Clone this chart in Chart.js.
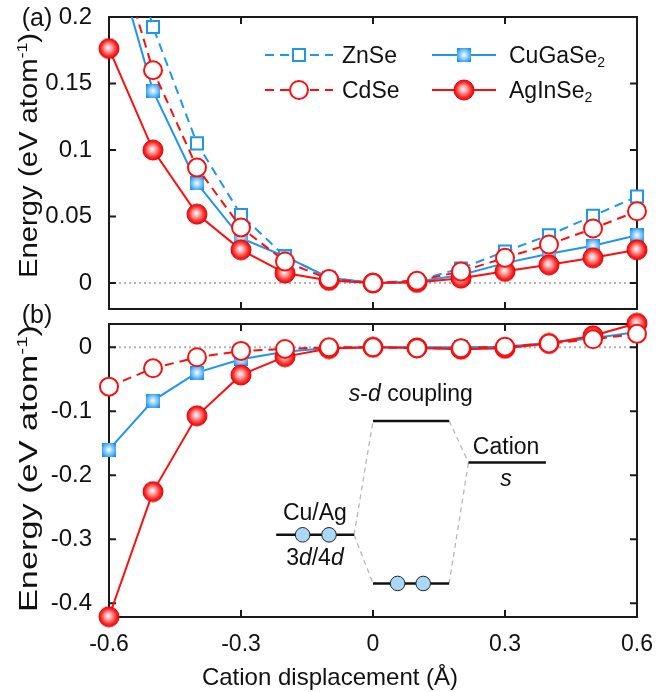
<!DOCTYPE html>
<html><head><meta charset="utf-8">
<script src="https://cdn.jsdelivr.net/npm/chart.js@4.4.0/dist/chart.umd.min.js"></script>
<style>
body{margin:0;background:#fff}
#wrap{position:relative;width:668px;height:692px;background:#fff}
canvas{position:absolute;left:0}
</style></head>
<body><div id="wrap">
<canvas id="ca" width="668" height="320" style="top:0"></canvas>
<canvas id="cb" width="668" height="396" style="top:296px"></canvas>
</div>
<script>
// ---------------- data ----------------
const xValues = [-0.6,-0.5,-0.4,-0.3,-0.2,-0.1,0,0.1,0.2,0.3,0.4,0.5,0.6];
const seriesNames = ['ZnSe','CdSe','CuGaSe₂','AgInSe₂'];
// panel (a)
const znseA = [0.31,0.1925,0.105,0.0512,0.020,0.004,0,0.002,0.011,0.0237,0.036,0.0505,0.065];
const cdseA = [0.27,0.160,0.0868,0.0418,0.0162,0.003,0,0.0017,0.0087,0.019,0.029,0.041,0.054];
const cugaA = [0.26,0.1445,0.075,0.0338,0.020,0.004,0,0.001,0.006,0.015,0.022,0.028,0.036];
const aginA = [0.1763,0.100,0.0518,0.025,0.0075,0.002,0,0.0005,0.0037,0.0088,0.0137,0.019,0.025];
// panel (b)
const cdseB = [-0.0615,-0.0328,-0.0156,-0.0057,-0.0026,0,0,-0.0015,-0.0015,0.001,0.006,0.0125,0.021];
const cugaB = [-0.160,-0.0833,-0.0396,-0.0188,-0.007,-0.001,0,0,0,0.001,0.007,0.014,0.024];
const aginB = [-0.421,-0.2255,-0.107,-0.0432,-0.0146,-0.002,0,-0.001,-0.003,-0.0015,0.006,0.018,0.0375];
// ticks
const xTicks = [-0.6,-0.3,0,0.3,0.6];
const xTickLabels = ['-0.6','-0.3','0','0.3','0.6'];
const yTicksA = [0,0.05,0.1,0.15,0.2];
const yTickLabelsA = ['0','0.05','0.1','0.15','0.2'];
const yTicksB = [-0.4,-0.3,-0.2,-0.1,0];
const yTickLabelsB = ['-0.4','-0.3','-0.2','-0.1','0'];

// ---------------- styles ----------------
const FONT = '"Liberation Sans", Arial, sans-serif';
const BLUE = '#1e96ee', RED = '#ff0d0d';
const DASH = [9,6];

function makeRedBall(){
  const c = document.createElement('canvas'); c.width = 22; c.height = 22;
  const g = c.getContext('2d');
  const gr = g.createRadialGradient(10,10,0,11,11,10.5);
  gr.addColorStop(0,'#ffffff'); gr.addColorStop(0.3,'#ffb0b0');
  gr.addColorStop(0.7,'#ff3030'); gr.addColorStop(1,'#e00000');
  g.fillStyle = gr; g.beginPath(); g.arc(11,11,10,0,Math.PI*2); g.fill();
  g.strokeStyle = '#e40000'; g.lineWidth = 1; g.stroke();
  return c;
}
function makeBlueSquare(){
  const c = document.createElement('canvas'); c.width = 14; c.height = 14;
  const g = c.getContext('2d');
  const gr = g.createRadialGradient(7,7,0,7,7,8.5);
  gr.addColorStop(0,'#ffffff'); gr.addColorStop(0.45,'#8fd0ff'); gr.addColorStop(1,'#1e8fe8');
  g.fillStyle = gr; g.fillRect(0,0,14,14);
  return c;
}
const redBall = makeRedBall(), blueSq = makeBlueSquare();

const pts = arr => xValues.map((x,i)=>({x, y: arr[i]}));

function openDs(label, arr, color, style, r, order, clip){
  return {label, data: pts(arr), borderColor: color, borderWidth: 2, borderDash: DASH,
    pointStyle: style, pointRadius: r, pointBorderWidth: 2, pointBorderColor: color,
    pointBackgroundColor: '#fff', order, clip, tension: 0};
}
function fillDs(label, arr, color, img, order, clip){
  return {label, data: pts(arr), borderColor: color, borderWidth: 2,
    pointStyle: img, pointRadius: 10, pointBorderWidth: 0, pointBackgroundColor: color,
    pointBorderColor: color, order, clip, tension: 0};
}

// ---------------- drawing helpers ----------------
function richWidth(ctx, segs){
  let w = 0;
  segs.forEach(s => { ctx.font = s.font; w += ctx.measureText(s.t).width; });
  return w;
}
function drawRich(ctx, segs, x, y, align){
  const w = richWidth(ctx, segs);
  let cx = align === 'center' ? x - w/2 : (align === 'right' ? x - w : x);
  ctx.textBaseline = 'alphabetic'; ctx.textAlign = 'left';
  segs.forEach(s => { ctx.font = s.font; ctx.fillText(s.t, cx, y + (s.dy||0)); cx += ctx.measureText(s.t).width; });
}
function nameSegs(name, size){
  const parts = name.split('₂');
  const segs = [{t: parts[0], font: `${size}px ${FONT}`}];
  if (parts.length > 1) segs.push({t: '2', font: `${Math.round(size*0.62)}px ${FONT}`, dy: 4});
  return segs;
}
const titleSegs = size => [
  {t:'Energy (eV atom', font:`${size}px ${FONT}`},
  {t:'-1', font:`${Math.round(size*0.6)}px ${FONT}`, dy:-size*0.42},
  {t:')', font:`${size}px ${FONT}`}
];

const panelPlugin = {
  id: 'panel',
  beforeDatasetsDraw(chart, args, o){
    const {ctx, chartArea: a, scales: {x, y}} = chart;
    ctx.save();
    const y0 = y.getPixelForValue(0);
    ctx.strokeStyle = '#b4b4b4'; ctx.lineWidth = 2; ctx.setLineDash([2,3]);
    ctx.beginPath(); ctx.moveTo(a.left, y0); ctx.lineTo(a.right, y0); ctx.stroke();
    ctx.setLineDash([]);
    ctx.strokeStyle = '#1a1a1a'; ctx.lineWidth = 2;
    ctx.strokeRect(a.left, a.top, a.right - a.left, a.bottom - a.top);
    const L = 7;
    ctx.beginPath();
    x.ticks.forEach(t => { const p = x.getPixelForValue(t.value);
      ctx.moveTo(p, a.bottom); ctx.lineTo(p, a.bottom - L);
      ctx.moveTo(p, a.top); ctx.lineTo(p, a.top + L); });
    y.ticks.forEach(t => { const p = y.getPixelForValue(t.value);
      ctx.moveTo(a.left, p); ctx.lineTo(a.left + L, p);
      ctx.moveTo(a.right, p); ctx.lineTo(a.right - L, p); });
    ctx.stroke();
    ctx.restore();
  },
  afterDraw(chart, args, o){
    const {ctx, scales: {x, y}} = chart;
    ctx.save();
    ctx.fillStyle = '#111';
    // panel label
    ctx.font = `25px ${FONT}`; ctx.textAlign = 'center'; ctx.textBaseline = 'middle';
    ctx.fillText(o.label, o.labelX, o.labelY);
    // y title (rotated, stretched to length)
    const segs = titleSegs(25);
    const w = richWidth(ctx, segs);
    ctx.save();
    ctx.translate(o.yTitle.base, o.yTitle.from);
    ctx.rotate(-Math.PI/2);
    ctx.scale(o.yTitle.len / w, 1);
    drawRich(ctx, segs, 0, 0, 'left');
    ctx.restore();
    // x title
    if (o.xTitle){
      drawRich(ctx, [{t: o.xTitle.text, font: `24px ${FONT}`}], o.xTitle.cx, o.xTitle.base, 'center');
    }
    // legend
    if (o.legend){
      o.legend.forEach(it => {
        const d = chart.data.datasets[it.index];
        ctx.strokeStyle = d.borderColor; ctx.lineWidth = 2;
        ctx.setLineDash(d.borderDash || []);
        ctx.beginPath(); ctx.moveTo(it.x0, it.y); ctx.lineTo(it.x1, it.y); ctx.stroke();
        ctx.setLineDash([]);
        ctx.fillStyle = d.pointBackgroundColor; ctx.strokeStyle = d.pointBorderColor;
        ctx.lineWidth = d.pointBorderWidth;
        Chart.helpers.drawPoint(ctx, {pointStyle: d.pointStyle, radius: d.pointRadius,
          borderWidth: d.pointBorderWidth, rotation: 0}, (it.x0 + it.x1)/2, it.y);
        ctx.fillStyle = '#111';
        drawRich(ctx, nameSegs(d.label, 23), it.tx, it.y + 8, 'left');
      });
    }
    // s-d coupling diagram, in data coordinates
    if (o.diagram){
      const D = o.diagram;
      const px = v => x.getPixelForValue(v), py = v => y.getPixelForValue(v);
      ctx.strokeStyle = '#b8b8b8'; ctx.lineWidth = 1.3; ctx.setLineDash([5,4]);
      D.links.forEach(l => { ctx.beginPath(); ctx.moveTo(px(l[0]), py(l[1])); ctx.lineTo(px(l[2]), py(l[3])); ctx.stroke(); });
      ctx.setLineDash([]);
      ctx.strokeStyle = '#111'; ctx.lineWidth = 2.5;
      D.levels.forEach(l => { ctx.beginPath(); ctx.moveTo(px(l[0]), py(l[2])); ctx.lineTo(px(l[1]), py(l[2])); ctx.stroke(); });
      ctx.lineWidth = 1;
      D.electrons.forEach(e => { ctx.beginPath(); ctx.arc(px(e[0]), py(e[1]), 7.3, 0, Math.PI*2);
        ctx.fillStyle = '#a9d9f6'; ctx.fill(); ctx.strokeStyle = '#222'; ctx.stroke(); });
      ctx.fillStyle = '#111';
      D.texts.forEach(tx => {
        const segs = tx.parts.map(p => ({t: p[0], font: `${p[1] ? 'italic ' : ''}23px ${FONT}`}));
        drawRich(ctx, segs, px(tx.x), py(tx.y) + 8, 'center');
      });
    }
    ctx.restore();
  }
};

function yScale(min, max, ticks, labels){
  return {
    type: 'linear', min, max,
    grid: {display: false}, border: {display: false},
    afterBuildTicks: s => { s.ticks = ticks.map(v => ({value: v})); },
    afterFit: s => { s.width = 109; s.paddingTop = 0; s.paddingBottom = 0; },
    ticks: {color: '#111', font: {family: FONT, size: 24}, padding: 9,
      callback: v => labels[ticks.indexOf(v)]}
  };
}
function xScale(showLabels, h){
  return {
    type: 'linear', min: -0.6, max: 0.6,
    grid: {display: false}, border: {display: false},
    afterBuildTicks: s => { s.ticks = xTicks.map(v => ({value: v})); },
    afterFit: s => { s.height = h; s.paddingLeft = 0; s.paddingRight = 0; },
    ticks: {display: showLabels, color: '#111', font: {family: FONT, size: 23}, padding: 6,
      maxRotation: 0, autoSkip: false,
      callback: v => xTickLabels[xTicks.indexOf(v)]}
  };
}

const clipA = {left: 20, top: 0, right: 20, bottom: 20};
new Chart(document.getElementById('ca'), {
  type: 'line',
  data: {datasets: [
    openDs(seriesNames[0], znseA, BLUE, 'rect', 8.5, 2, clipA),
    openDs(seriesNames[1], cdseA, RED, 'circle', 9, 1, clipA),
    fillDs(seriesNames[2], cugaA, BLUE, blueSq, 4, clipA),
    fillDs(seriesNames[3], aginA, RED, redBall, 3, clipA)
  ]},
  options: {
    responsive: false, animation: false, events: [],
    layout: {padding: {left: 0, right: 31, top: 17, bottom: 11}},
    scales: {x: xScale(false, 0), y: yScale(-0.0195, 0.2, yTicksA, yTickLabelsA)},
    plugins: {legend: {display: false}, tooltip: {enabled: false},
      panel: {label: '(a)', labelX: 37, labelY: 19,
        yTitle: {base: 37, from: 278, len: 245},
        legend: [
          {index: 0, x0: 265, x1: 333, y: 55, tx: 342},
          {index: 1, x0: 265, x1: 333, y: 90, tx: 342},
          {index: 2, x0: 432, x1: 496, y: 55, tx: 509},
          {index: 3, x0: 432, x1: 496, y: 90, tx: 509}
        ]}}
  },
  plugins: [panelPlugin]
});

new Chart(document.getElementById('cb'), {
  type: 'line',
  data: {datasets: [
    openDs(seriesNames[1], cdseB, RED, 'circle', 9, 1, false),
    fillDs(seriesNames[2], cugaB, BLUE, blueSq, 4, false),
    fillDs(seriesNames[3], aginB, RED, redBall, 3, false)
  ]},
  options: {
    responsive: false, animation: false, events: [],
    layout: {padding: {left: 0, right: 31, top: 28, bottom: 0}},
    scales: {x: xScale(true, 75), y: yScale(-0.4214, 0.0364, yTicksB, yTickLabelsB)},
    plugins: {legend: {display: false}, tooltip: {enabled: false},
      panel: {label: '(b)', labelX: 37, labelY: 20,
        yTitle: {base: 37, from: 316, len: 287},
        xTitle: {text: 'Cation displacement (Å)', cx: 330, base: 389},
        diagram: {
          levels: [[0, 0.173, -0.115], [0.217, 0.393, -0.180], [-0.22, -0.043, -0.293], [0, 0.173, -0.369]],
          links: [[-0.043, -0.293, 0, -0.115], [-0.043, -0.293, 0, -0.369],
                  [0.173, -0.115, 0.217, -0.180], [0.173, -0.369, 0.217, -0.180]],
          electrons: [[-0.16, -0.293], [-0.10, -0.293], [0.056, -0.369], [0.114, -0.369]],
          texts: [
            {x: 0.086, y: -0.071, parts: [['s', true], ['-', false], ['d', true], [' coupling', false]]},
            {x: 0.3025, y: -0.155, parts: [['Cation', false]]},
            {x: 0.3025, y: -0.204, parts: [['s', true]]},
            {x: -0.132, y: -0.257, parts: [['Cu/Ag', false]]},
            {x: -0.132, y: -0.327, parts: [['3', false], ['d', true], ['/4', false], ['d', true]]}
          ]
        }}}
  },
  plugins: [panelPlugin]
});
</script>
</body></html>
